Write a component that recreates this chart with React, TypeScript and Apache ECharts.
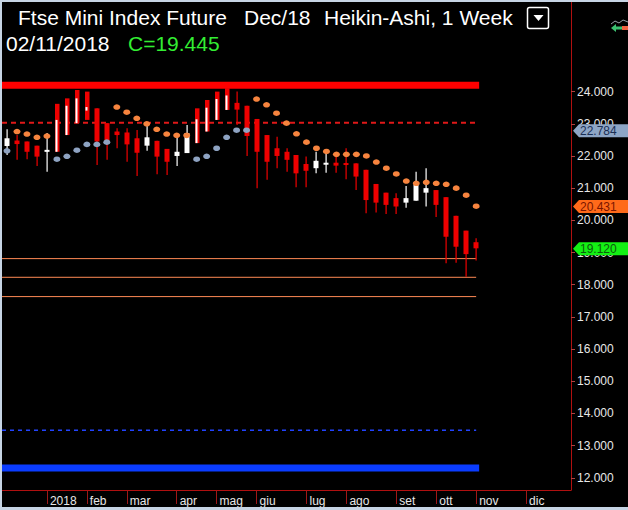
import React, { useEffect, useRef } from 'react';
import * as echarts from 'echarts';

// Weekly categories (Mondays), Dec 2017 .. Dec 2018
const weekDates = [
  '2017-12-04', '2017-12-11', '2017-12-18', '2017-12-25',
  '2018-01-01', '2018-01-08', '2018-01-15', '2018-01-22', '2018-01-29',
  '2018-02-05', '2018-02-12', '2018-02-19', '2018-02-26',
  '2018-03-05', '2018-03-12', '2018-03-19', '2018-03-26',
  '2018-04-02', '2018-04-09', '2018-04-16', '2018-04-23', '2018-04-30',
  '2018-05-07', '2018-05-14', '2018-05-21', '2018-05-28',
  '2018-06-04', '2018-06-11', '2018-06-18', '2018-06-25',
  '2018-07-02', '2018-07-09', '2018-07-16', '2018-07-23', '2018-07-30',
  '2018-08-06', '2018-08-13', '2018-08-20', '2018-08-27',
  '2018-09-03', '2018-09-10', '2018-09-17', '2018-09-24',
  '2018-10-01', '2018-10-08', '2018-10-15', '2018-10-22', '2018-10-29',
  '2018-11-05', '2018-11-12', '2018-11-19', '2018-11-26',
  '2018-12-03', '2018-12-10', '2018-12-17', '2018-12-24', '2018-12-31',
];

const monthTickIndices = [4, 8, 12, 17, 21, 25, 30, 34, 39, 43, 47, 52];
const monthTickLabels = ['2018', 'feb', 'mar', 'apr', 'mag', 'giu', 'lug', 'ago', 'set', 'ott', 'nov', 'dic'];

// Heikin-Ashi candles (thousands)
const haOpen = [
  22.31, 22.48, 22.45, 22.32, 22.13, 22.13, 22.65, 23.02, 23.41, 23.48,
  23.02, 22.76, 22.73, 22.55, 22.32, 22.47, 22.22, 22.00, 22.09, 22.40,
  22.76, 23.12, 23.43, 23.65, 23.56, 23.15, 22.65, 22.24, 22.13, 22.03,
  21.75, 21.62, 21.73, 21.79, 21.78, 21.77, 21.57, 21.13, 20.86, 20.69,
  20.55, 20.61, 20.86, 20.94, 20.72, 20.14, 19.68, 19.32,
];
const haClose = [
  22.55, 22.37, 22.13, 21.98, 22.19, 23.12, 23.56, 23.79, 23.52, 22.45,
  22.48, 22.65, 22.36, 22.10, 22.58, 21.98, 21.82, 22.13, 22.71, 23.14,
  23.50, 23.77, 23.88, 23.44, 22.62, 22.13, 21.82, 22.00, 21.88, 21.46,
  21.54, 21.85, 21.79, 21.70, 21.73, 21.36, 20.63, 20.55, 20.48, 20.43,
  20.69, 21.10, 21.00, 20.48, 19.49, 19.18, 18.95, 19.13,
];
const haHigh = [
  22.83, 22.65, 22.45, 22.32, 22.71, 23.62, 23.79, 24.05, 24.00, 23.48,
  23.02, 22.86, 22.86, 22.81, 22.96, 22.47, 22.22, 22.62, 22.96, 23.48,
  23.74, 24.00, 24.11, 24.00, 23.56, 23.15, 22.65, 22.60, 22.24, 22.03,
  21.98, 22.13, 22.08, 21.98, 22.24, 21.77, 21.57, 21.13, 20.86, 20.84,
  21.07, 21.51, 21.62, 20.94, 20.72, 20.14, 19.68, 19.44,
];
const haLow = [
  22.03, 21.88, 21.90, 21.69, 21.51, 22.13, 22.65, 23.02, 23.12, 21.72,
  21.88, 22.24, 21.82, 21.38, 22.16, 21.43, 21.41, 21.69, 22.09, 22.40,
  22.76, 23.12, 23.43, 22.96, 22.00, 21.00, 21.26, 21.62, 21.51, 21.03,
  21.03, 21.46, 21.48, 21.48, 21.28, 20.94, 20.22, 20.24, 20.20, 20.20,
  20.39, 20.61, 20.43, 20.10, 18.67, 18.68, 18.25, 18.75,
];
// weeks drawn as red bars with a white overlay
const mixedBars = [5, 6, 7, 8, 19, 20, 21, 22];

// Parabolic SAR dots
const sarAbove = [
  null, 22.76, 22.68, 22.58, 22.62, null, null, null, null, null,
  null, 23.52, 23.36, 23.17, 23.00, 22.83, 22.68, 22.64, 22.64, null,
  null, null, null, null, null, 23.77, 23.59, 23.33, 23.02, 22.69,
  22.43, 22.24, 22.14, 22.05, 22.05, 22.05, 22.00, 21.81, 21.62, 21.44,
  21.22, 21.15, 21.18, 21.15, 21.12, 21.00, 20.78, 20.44,
];
const sarBelow = [
  22.16, null, null, null, null, 21.90, 21.99, 22.18, 22.36, 22.36,
  22.43, null, null, null, null, null, null, null, null, 21.90,
  21.99, 22.24, 22.58, 22.80, 22.80, null, null, null, null, null,
  null, null, null, null, null, null, null, null, null, null,
  null, null, null, null, null, null, null, null,
];

// Horizontal levels
const levelValues = [24.2, 23.03, 18.81, 18.23, 17.63, 13.48, 12.3];
const levelEnds = [47.3, 47.0, 47.0, 47.0, 47.0, 47.0, 47.3];

// Price tags on the right axis
const tagValues = [22.784, 20.431, 19.12];

const FONT = '"Liberation Sans", Arial, sans-serif';

export default function App() {
  const ref = useRef<HTMLDivElement>(null);

  useEffect(() => {
    if (!ref.current) return;
    const chart = echarts.init(ref.current, null, { renderer: 'svg' });

    const levelStyles = [
      { color: '#ff0000', width: 7, type: 'solid' },
      { color: '#e01818', width: 2, type: [5, 4] },
      { color: '#ff8a55', width: 1, type: 'solid' },
      { color: '#ff8a55', width: 1, type: 'solid' },
      { color: '#ff8a55', width: 1, type: 'solid' },
      { color: '#2244ff', width: 1.5, type: [4, 4] },
      { color: '#0a3cff', width: 7, type: 'solid' },
    ];
    const tagFill = ['#8ea6c6', '#ff6a1a', '#14f014'];
    const tagText = ['#1a2f55', '#7a1500', '#0d5a0d'];

    const candleData = haOpen.map((o, i) => [
      i, o, haClose[i], haLow[i], haHigh[i], mixedBars.includes(i) ? 1 : 0,
    ]);

    const option: any = {
      animation: false,
      backgroundColor: '#000000',
      grid: { left: 2, right: 57, top: 62, bottom: 20, containLabel: false },
      xAxis: [
        {
          type: 'category',
          data: weekDates,
          boundaryGap: true,
          axisLine: { show: true, onZero: false, lineStyle: { color: '#b01010', width: 1 } },
          axisTick: {
            show: true,
            alignWithLabel: true,
            interval: (i: number) => monthTickIndices.includes(i),
            length: 14,
            lineStyle: { color: '#a01818' },
          },
          axisLabel: {
            interval: (i: number) => monthTickIndices.includes(i),
            formatter: (_v: string, i: number) => {
              const k = monthTickIndices.indexOf(i);
              return k >= 0 ? monthTickLabels[k] : '';
            },
            color: '#e8e8e8',
            fontSize: 12,
            fontFamily: FONT,
            align: 'left',
            padding: [0, 0, 0, 3],
            margin: 5,
          },
          splitLine: { show: false },
        },
        {
          type: 'value', min: -0.5, max: 56.5, show: false,
          axisLine: { show: false, onZero: false },
          axisTick: { show: false },
          axisLabel: { show: false },
          splitLine: { show: false },
        },
      ],
      yAxis: {
        type: 'value',
        position: 'right',
        min: 11.62,
        max: 24.92,
        splitNumber: 13,
        axisLine: { show: true, onZero: false, lineStyle: { color: '#b01010', width: 1 } },
        axisTick: { show: true, length: 4, lineStyle: { color: '#b04040' } },
        axisLabel: {
          color: '#e8e8e8',
          fontSize: 12,
          fontFamily: FONT,
          margin: 6,
          showMinLabel: false,
          showMaxLabel: false,
          formatter: (v: number) => (Math.abs(v - Math.round(v)) < 1e-6 ? v.toFixed(3) : ''),
        },
        splitLine: { show: false },
      },
      series: [
        ...levelValues.map((v, k) => ({
          type: 'line',
          xAxisIndex: 1,
          yAxisIndex: 0,
          data: [[-0.5, v], [levelEnds[k], v]],
          symbol: 'none',
          silent: true,
          z: 1,
          lineStyle: levelStyles[k],
        })),
        {
          type: 'custom',
          xAxisIndex: 0,
          z: 3,
          data: candleData,
          encode: { x: 0, y: [1, 2, 3, 4] },
          renderItem: (_params: any, api: any) => {
            const i = api.value(0);
            const o = api.value(1);
            const c = api.value(2);
            const l = api.value(3);
            const h = api.value(4);
            const mixed = api.value(5);
            const pO = api.coord([i, o]);
            const pC = api.coord([i, c]);
            const pL = api.coord([i, l]);
            const pH = api.coord([i, h]);
            const x = Math.round(pO[0]);
            const children: any[] = [];
            if (mixed) {
              children.push({
                type: 'rect',
                shape: { x: x - 2, y: pH[1], width: 4.5, height: Math.max(1, pL[1] - pH[1]) },
                style: { fill: '#ee0000' },
              });
              const top = Math.min(pO[1], pC[1]);
              const hh = Math.max(2, Math.abs(pO[1] - pC[1]));
              children.push({
                type: 'rect',
                shape: { x: x - 1.5, y: top, width: 2, height: hh },
                style: { fill: '#ffffff' },
              });
            } else {
              const up = c >= o;
              const col = up ? '#ffffff' : '#ee0000';
              children.push({
                type: 'rect',
                shape: { x: x - 0.5, y: pH[1], width: 1.2, height: Math.max(1, pL[1] - pH[1]) },
                style: { fill: col },
              });
              const top = Math.min(pO[1], pC[1]);
              const hh = Math.max(2, Math.abs(pO[1] - pC[1]));
              children.push({
                type: 'rect',
                shape: { x: x - 2.5, y: top, width: 5, height: hh },
                style: { fill: col },
              });
            }
            return { type: 'group', children };
          },
        },
        {
          type: 'scatter',
          xAxisIndex: 0,
          z: 4,
          symbol: 'circle',
          symbolSize: [7, 5.5],
          itemStyle: { color: '#f7843e', opacity: 1 },
          data: sarAbove.map((v, i) => [i, v]).filter((d) => d[1] != null),
        },
        {
          type: 'scatter',
          xAxisIndex: 0,
          z: 4,
          symbol: 'circle',
          symbolSize: [7, 5.5],
          itemStyle: { color: '#8ea3c2', opacity: 1 },
          data: sarBelow.map((v, i) => [i, v]).filter((d) => d[1] != null),
        },
        {
          type: 'custom',
          xAxisIndex: 0,
          z: 20,
          clip: false,
          data: tagValues.map((v, k) => [47, v, k]),
          encode: { x: 0, y: 1 },
          renderItem: (params: any, api: any) => {
            const v = api.value(1);
            const k = api.value(2);
            const y = api.coord([47, v])[1];
            const cs = params.coordSys;
            const x0 = cs.x + cs.width + 2;
            return {
              type: 'group',
              children: [
                {
                  type: 'polygon',
                  shape: {
                    points: [
                      [x0, y], [x0 + 6, y - 6.5], [628, y - 6.5], [628, y + 6.5], [x0 + 6, y + 6.5],
                    ],
                  },
                  style: { fill: tagFill[k] },
                },
                {
                  type: 'text',
                  style: {
                    text: v.toFixed(3),
                    x: x0 + 7,
                    y: y + 0.5,
                    verticalAlign: 'middle',
                    fill: tagText[k],
                    font: '12px ' + FONT,
                  },
                },
              ],
            };
          },
        },
      ],
      graphic: [
        { type: 'rect', shape: { x: 0, y: 0, width: 628, height: 2 }, style: { fill: '#c6d4e4' }, z: 100 },
        { type: 'rect', shape: { x: 0, y: 0, width: 2, height: 510 }, style: { fill: '#c6d4e4' }, z: 100 },
        { type: 'rect', shape: { x: 0, y: 507, width: 628, height: 3 }, style: { fill: '#c6d4e4' }, z: 100 },
        { type: 'line', shape: { x1: 571.5, y1: 2, x2: 571.5, y2: 62 }, style: { stroke: '#b01010', lineWidth: 1 }, z: 50 },
        {
          type: 'text', left: 18, top: 7, z: 50,
          style: { text: 'Ftse Mini Index Future', fill: '#ffffff', font: '21px ' + FONT },
        },
        {
          type: 'text', left: 244, top: 7, z: 50,
          style: { text: 'Dec/18', fill: '#ffffff', font: '21px ' + FONT },
        },
        {
          type: 'text', left: 324, top: 7, z: 50,
          style: { text: 'Heikin-Ashi, 1 Week', fill: '#ffffff', font: '21px ' + FONT },
        },
        {
          type: 'text', left: 6, top: 33, z: 50,
          style: { text: '02/11/2018', fill: '#ffffff', font: '21px ' + FONT },
        },
        {
          type: 'text', left: 128, top: 33, z: 50,
          style: { text: 'C=19.445', fill: '#33ee33', font: '21px ' + FONT },
        },
        {
          type: 'rect', z: 50,
          shape: { x: 527.5, y: 7.5, width: 21, height: 21, r: 2 },
          style: { fill: '#000000', stroke: '#ffffff', lineWidth: 1.5 },
        },
        {
          type: 'polygon', z: 51,
          shape: { points: [[533.5, 15], [543.5, 15], [538.5, 21]] },
          style: { fill: '#ffffff' },
        },
        {
          type: 'polyline', z: 50,
          shape: { points: [[611, 24], [615, 21], [619, 23], [623, 20], [628, 22]] },
          style: { stroke: '#9aa0a8', lineWidth: 1, fill: null },
        },
        {
          type: 'polygon', z: 50,
          shape: { points: [[611, 28], [616, 24], [616, 26.5], [622, 26.5], [622, 29.5], [616, 29.5], [616, 32]] },
          style: { fill: '#3cc070' },
        },
        {
          type: 'rect', z: 50,
          shape: { x: 622, y: 26, width: 6, height: 4 },
          style: { fill: '#f06040' },
        },
      ],
    };

    chart.setOption(option);
    return () => chart.dispose();
  }, []);

  return (
    <div
      ref={ref}
      style={{ position: 'fixed', left: 0, top: 0, width: 628, height: 510, background: '#000' }}
    />
  );
}
